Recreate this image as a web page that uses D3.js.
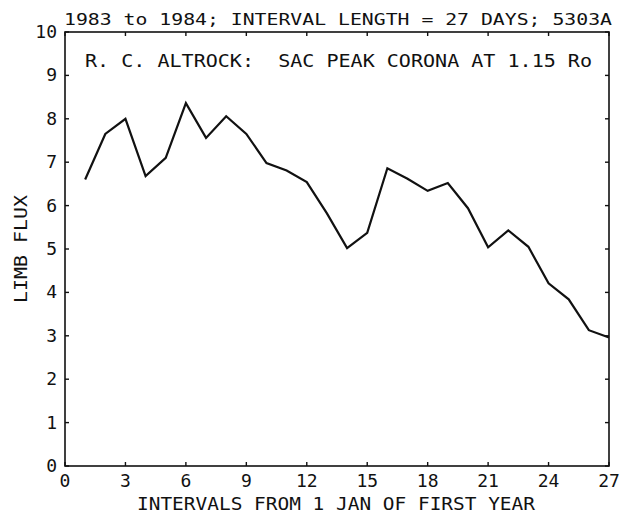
<!DOCTYPE html>
<html>
<head>
<meta charset="utf-8">
<script src="https://cdn.jsdelivr.net/npm/d3@7"></script>
<style>
  body { margin: 0; background: #fff; }
  text { font-family: "DejaVu Sans Mono", monospace; fill: #111; white-space: pre; }
</style>
</head>
<body>
<svg width="620" height="513"></svg>
<script>
// intervals (27-day) and limb flux
var intervals = [1,2,3,4,5,6,7,8,9,10,11,12,13,14,15,16,17,18,19,20,21,22,23,24,25,26,27];
var flux = [6.6,7.65,8.0,6.68,7.1,8.36,7.56,8.06,7.65,6.98,6.81,6.54,5.82,5.02,5.37,6.86,6.62,6.34,6.52,5.94,5.04,5.43,5.05,4.21,3.84,3.13,2.96];
var xTicks = [0,3,6,9,12,15,18,21,24,27];
var yTicks = [0,1,2,3,4,5,6,7,8,9,10];

var margin = {left: 65, right: 11, top: 32, bottom: 47};
var width = 620, height = 513;
var svg = d3.select("svg");

var x = d3.scaleLinear().domain([0, 27]).range([margin.left, width - margin.right]);
var y = d3.scaleLinear().domain([0, 10]).range([height - margin.bottom, margin.top]);

// frame
svg.append("rect")
    .attr("x", x(0)).attr("y", y(10))
    .attr("width", x(27) - x(0)).attr("height", y(0) - y(10))
    .attr("fill", "none").attr("stroke", "#111").attr("stroke-width", 1.6);

// inward ticks on all four sides
var tl = 4;
svg.append("g").selectAll("line").data(xTicks).enter().append("line")
    .attr("x1", d=>x(d)).attr("x2", d=>x(d))
    .attr("y1", y(0)).attr("y2", y(0) - tl)
    .attr("stroke", "#111").attr("stroke-width", 1.4);
svg.append("g").selectAll("line").data(xTicks).enter().append("line")
    .attr("x1", d=>x(d)).attr("x2", d=>x(d))
    .attr("y1", y(10)).attr("y2", y(10) + tl)
    .attr("stroke", "#111").attr("stroke-width", 1.4);
svg.append("g").selectAll("line").data(yTicks).enter().append("line")
    .attr("x1", x(0)).attr("x2", x(0) + tl)
    .attr("y1", d=>y(d)).attr("y2", d=>y(d))
    .attr("stroke", "#111").attr("stroke-width", 1.4);
svg.append("g").selectAll("line").data(yTicks).enter().append("line")
    .attr("x1", x(27)).attr("x2", x(27) - tl)
    .attr("y1", d=>y(d)).attr("y2", d=>y(d))
    .attr("stroke", "#111").attr("stroke-width", 1.4);

// tick labels
svg.append("g").selectAll("text").data(xTicks).enter().append("text")
    .attr("x", d=>x(d)).attr("y", y(0) + 21)
    .attr("text-anchor", "middle")
    .style("font-size", "18px")
    .text(d=>d);
svg.append("g").selectAll("text").data(yTicks).enter().append("text")
    .attr("x", x(0) - 8).attr("y", d=>y(d) + 6)
    .attr("text-anchor", "end")
    .style("font-size", "18px")
    .text(d=>d);

// axis titles
svg.append("text")
    .attr("x", 336).attr("y", 510)
    .attr("text-anchor", "middle")
    .attr("textLength", 398).attr("lengthAdjust", "spacingAndGlyphs")
    .style("font-size", "17px")
    .text("INTERVALS FROM 1 JAN OF FIRST YEAR");
svg.append("text")
    .attr("transform", "translate(27," + y(5) + ") rotate(-90)")
    .attr("text-anchor", "middle")
    .attr("textLength", 108).attr("lengthAdjust", "spacingAndGlyphs")
    .style("font-size", "17px")
    .text("LIMB FLUX");

// titles
svg.append("text")
    .attr("x", 64).attr("y", 25)
    .attr("textLength", 548).attr("lengthAdjust", "spacingAndGlyphs")
    .style("font-size", "16.5px")
    .text("1983 to 1984; INTERVAL LENGTH = 27 DAYS; 5303A");
svg.append("text")
    .attr("x", 85).attr("y", 67)
    .attr("textLength", 507).attr("lengthAdjust", "spacingAndGlyphs")
    .style("font-size", "17px")
    .text("R. C. ALTROCK:  SAC PEAK CORONA AT 1.15 Ro");

// data line
var line = d3.line()
    .x((d, i)=>x(intervals[i]))
    .y(d=>y(d));
svg.append("path")
    .datum(flux)
    .attr("d", line)
    .attr("fill", "none")
    .attr("stroke", "#111")
    .attr("stroke-width", 2.2)
    .attr("stroke-linejoin", "miter");
</script>
</body>
</html>
